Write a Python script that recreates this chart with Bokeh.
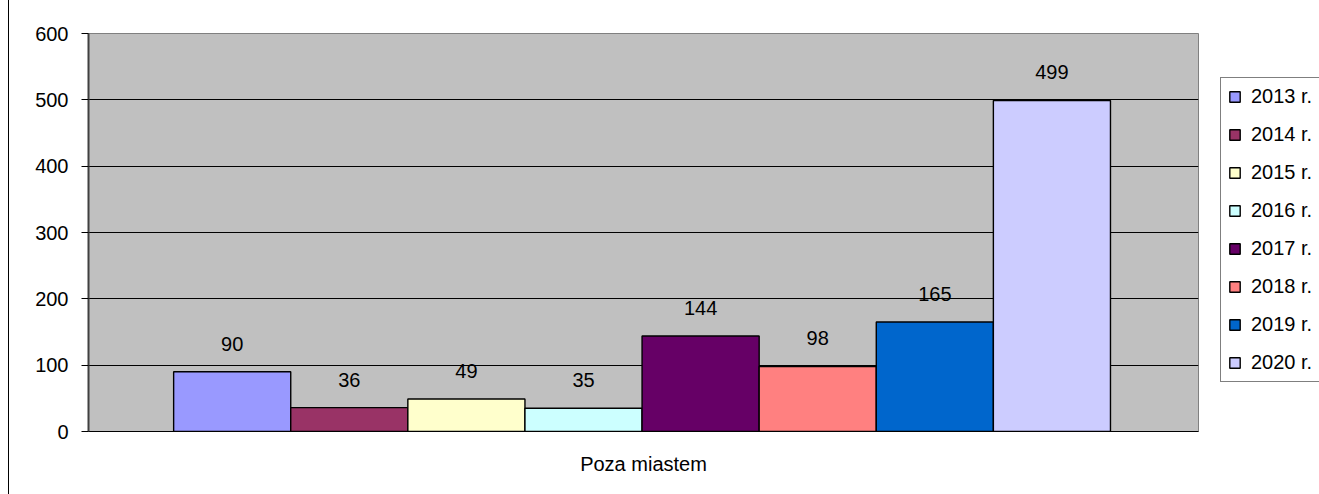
from bokeh.plotting import figure
from bokeh.models import (ColumnDataSource, FactorRange, Range1d, Legend, LegendItem,
                          FixedTicker)
from bokeh.transform import dodge
from bokeh.core.properties import value
from bokeh.embed import file_html
from bokeh.resources import INLINE

categories = ["Poza miastem"]
years = ["2013 r.", "2014 r.", "2015 r.", "2016 r.", "2017 r.", "2018 r.", "2019 r.", "2020 r."]
values = [90, 36, 49, 35, 144, 98, 165, 499]
colors = ["#9999FF", "#993366", "#FFFFCC", "#CCFFFF", "#660066", "#FF8080", "#0066CC", "#CCCCFF"]
y_ticks = [0, 100, 200, 300, 400, 500, 600]

FONT = "Liberation Sans"
FS = "20px"

p = figure(frame_width=1110, frame_height=398, output_backend="svg", toolbar_location=None,
           x_range=FactorRange(factors=categories, range_padding=0, factor_padding=0),
           y_range=Range1d(0, 600),
           min_border_left=79, min_border_right=0, min_border_top=33, min_border_bottom=63)
p.styles = {"margin-left": "8px", "border-left": "1px solid black"}

p.background_fill_color = "#C0C0C0"
p.border_fill_color = "white"
p.outline_line_color = "#808080"
p.outline_line_width = 1

p.xgrid.grid_line_color = None
p.ygrid.grid_line_color = "black"
p.ygrid.grid_line_width = 1

p.yaxis.ticker = FixedTicker(ticks=y_ticks)
p.yaxis.minor_tick_line_color = None
p.yaxis.major_tick_in = 0
p.yaxis.major_tick_out = 7
p.yaxis.major_tick_line_color = "black"
p.yaxis.axis_line_color = "#404040"
p.yaxis.axis_line_width = 2
p.yaxis.major_label_standoff = 13
p.yaxis.major_label_text_font = FONT
p.yaxis.major_label_text_font_size = FS
p.yaxis.major_label_text_color = "black"

p.xaxis.major_tick_line_color = None
p.xaxis.axis_line_color = "black"
p.xaxis.axis_line_width = 1
p.xaxis.major_label_standoff = 15
p.xaxis.major_label_text_font = FONT
p.xaxis.major_label_text_font_size = FS
p.xaxis.major_label_text_color = "black"

w = 0.1055
shift = -0.0013
items = []
n = len(values)
for i in range(n):
    src = ColumnDataSource(dict(cat=categories, val=[values[i]], lab=[str(values[i])]))
    off = (i - (n - 1) / 2) * w + shift
    r = p.vbar(x=dodge("cat", off, range=p.x_range), top="val", bottom=0, width=w, source=src,
               fill_color=colors[i], line_color="black", line_width=1.4)
    p.text(x=dodge("cat", off, range=p.x_range), y="val", text="lab", source=src,
           text_align="center", text_baseline="middle", y_offset=-28,
           text_font=value(FONT), text_font_size=FS, text_color="black")
    items.append(LegendItem(label=years[i], renderers=[r]))

legend = Legend(items=items, location=(22, 49), orientation="vertical",
                border_line_color="black", border_line_width=1,
                background_fill_color="white", background_fill_alpha=1,
                label_text_font=FONT, label_text_font_size=FS, label_text_color="black",
                glyph_width=13, glyph_height=13, label_standoff=10,
                label_height=20, spacing=15, padding=7, margin=0)
p.add_layout(legend, "right")

open("out.html", "w").write(file_html(p, INLINE))
